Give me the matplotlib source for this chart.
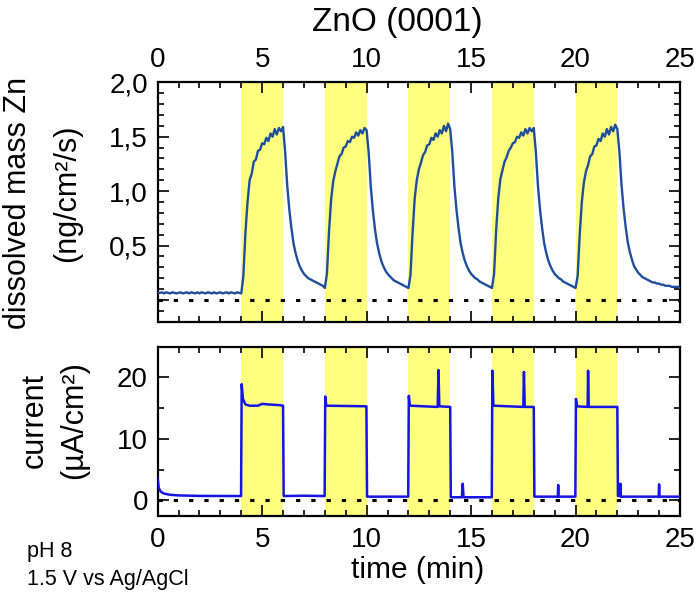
import numpy as np
import matplotlib
matplotlib.use("Agg")
import matplotlib.pyplot as plt
from matplotlib.ticker import MultipleLocator

plt.rcParams['font.family'] = ['Liberation Sans', 'DejaVu Sans']

# ---------------- data ----------------
# potential pulses (yellow bands), minutes
pulse_start = [4, 8, 12, 16, 20]
pulse_end = [6, 10, 14, 18, 22]

# dissolved mass Zn (ng/cm2/s), sampled every 0.1 min from 0 to 25 min
mass_values = [
    0.07, 0.065, 0.07, 0.06, 0.07, 0.065, 0.06, 0.07, 0.065, 0.06,   # 0
    0.065, 0.07, 0.06, 0.065, 0.07, 0.06, 0.07, 0.065, 0.06, 0.07,   # 1
    0.06, 0.07, 0.065, 0.06, 0.07, 0.065, 0.06, 0.07, 0.06, 0.065,   # 2
    0.07, 0.06, 0.065, 0.07, 0.06, 0.07, 0.065, 0.06, 0.07, 0.065,   # 3
    0.06, 0.22, 0.62, 0.90, 1.10, 1.16, 1.27, 1.29, 1.37, 1.38,      # 4
    1.44, 1.43, 1.49, 1.46, 1.53, 1.50, 1.57, 1.52, 1.58, 1.55,      # 5
    1.59, 1.36, 1.05, 0.83, 0.66, 0.52, 0.43, 0.36, 0.31, 0.27,      # 6
    0.24, 0.22, 0.20, 0.19, 0.18, 0.17, 0.16, 0.15, 0.14, 0.13,      # 7
    0.11, 0.24, 0.63, 0.92, 1.09, 1.18, 1.25, 1.32, 1.34, 1.40,      # 8
    1.41, 1.46, 1.45, 1.50, 1.49, 1.54, 1.51, 1.56, 1.53, 1.58,      # 9
    1.56, 1.35, 1.04, 0.82, 0.65, 0.52, 0.43, 0.36, 0.31, 0.27,      # 10
    0.24, 0.22, 0.20, 0.18, 0.17, 0.16, 0.15, 0.14, 0.13, 0.12,      # 11
    0.11, 0.23, 0.62, 0.93, 1.10, 1.20, 1.26, 1.33, 1.36, 1.42,      # 12
    1.43, 1.49, 1.47, 1.53, 1.50, 1.56, 1.53, 1.60, 1.55, 1.62,      # 13
    1.57, 1.36, 1.05, 0.83, 0.66, 0.52, 0.43, 0.36, 0.31, 0.27,      # 14
    0.24, 0.22, 0.20, 0.19, 0.17, 0.16, 0.15, 0.14, 0.13, 0.12,      # 15
    0.11, 0.24, 0.64, 0.93, 1.11, 1.19, 1.27, 1.31, 1.37, 1.40,      # 16
    1.44, 1.45, 1.50, 1.49, 1.54, 1.51, 1.57, 1.53, 1.58, 1.55,      # 17
    1.58, 1.36, 1.05, 0.83, 0.66, 0.52, 0.43, 0.36, 0.31, 0.27,      # 18
    0.24, 0.22, 0.20, 0.19, 0.17, 0.16, 0.15, 0.14, 0.13, 0.12,      # 19
    0.11, 0.22, 0.60, 0.90, 1.08, 1.18, 1.24, 1.32, 1.34, 1.41,      # 20
    1.42, 1.48, 1.46, 1.53, 1.50, 1.57, 1.52, 1.59, 1.55, 1.61,      # 21
    1.57, 1.36, 1.06, 0.84, 0.67, 0.53, 0.44, 0.37, 0.31, 0.28,      # 22
    0.25, 0.23, 0.21, 0.20, 0.19, 0.18, 0.17, 0.16, 0.16, 0.15,      # 23
    0.15, 0.14, 0.14, 0.13, 0.13, 0.13, 0.12, 0.12, 0.12, 0.12,      # 24
    0.11,                                                            # 25
]
mass_time = np.linspace(0, 25, len(mass_values))

# current (uA/cm2), breakpoints of the trace
cur_time = [0.0, 0.05, 0.15, 0.3, 0.6, 1.0, 2.0, 3.99,
            4.02, 4.08, 4.2, 4.4, 4.8, 5.0, 5.3, 5.8, 6.0,
            6.03, 7.0, 7.99,
            8.02, 8.07, 9.99,
            10.02, 11.99,
            12.02, 12.07, 13.4, 13.44, 13.48, 14.0,
            14.03, 14.56, 14.6, 14.64, 15.99,
            16.02, 16.07, 17.5, 17.53, 17.57, 18.0,
            18.03, 19.15, 19.17, 19.19, 19.99,
            20.02, 20.07, 20.58, 20.6, 20.63, 22.0,
            22.03, 22.13, 22.15, 22.17, 23.98, 24.0, 24.02, 25.0]
cur_value = [3.6, 2.0, 1.4, 1.1, 0.9, 0.8, 0.72, 0.7,
             18.9, 16.5, 15.6, 15.4, 15.4, 15.7, 15.6, 15.5, 15.4,
             0.7, 0.75, 0.7,
             16.9, 15.4, 15.3,
             0.6, 0.6,
             17.0, 15.4, 15.2, 21.2, 15.3, 15.2,
             0.5, 0.5, 2.7, 0.5, 0.5,
             21.1, 15.4, 15.2, 20.9, 15.2, 15.2,
             0.6, 0.6, 2.5, 0.6, 0.6,
             16.5, 15.3, 15.2, 21.1, 15.2, 15.2,
             0.7, 0.7, 2.7, 0.6, 0.6, 2.6, 0.6, 0.6]

top_ticks = [0, 0.5, 1.0, 1.5, 2.0]
top_ticklabels = ['', '0,5', '1,0', '1,5', '2,0']

# ---------------- figure ----------------
W, H = 698, 598
fig = plt.figure(figsize=(W / 100, H / 100), dpi=100)

x0, x1 = 157.7, 680.0
ax1 = fig.add_axes([x0 / W, 1 - 321.7 / H, (x1 - x0) / W, (321.7 - 82.3) / H])
ax2 = fig.add_axes([x0 / W, 1 - 515.7 / H, (x1 - x0) / W, (515.7 - 346.7) / H])

yellow = '#ffff80'
for ax in (ax1, ax2):
    for s, e in zip(pulse_start, pulse_end):
        ax.axvspan(s, e, color=yellow, lw=0, zorder=0)
    ax.axhline(0, color='black', lw=2.2, linestyle=(0, (1.4, 3.6)), zorder=1)
    ax.set_xlim(0, 25)
    ax.xaxis.set_major_locator(MultipleLocator(5))
    ax.xaxis.set_minor_locator(MultipleLocator(1))
    for sp in ax.spines.values():
        sp.set_linewidth(1.6)
    ax.tick_params(which='both', direction='in', top=True, right=True,
                   width=1.2, labelsize=20)
    ax.tick_params(which='major', length=8, pad=7)
    ax.tick_params(which='minor', length=4.5)

# top panel
ax1.plot(mass_time, mass_values, color='#1f4e9c', lw=1.7, zorder=3)
ax1.set_ylim(-0.2, 2.0)
ax1.set_yticks(top_ticks)
ax1.set_yticklabels(top_ticklabels)
ax1.yaxis.set_minor_locator(MultipleLocator(0.1))
ax1.tick_params(labeltop=True, labelbottom=False)

# bottom panel
ax2.plot(cur_time, cur_value, color='#1414e6', lw=1.8, zorder=3)
ax2.set_ylim(-2.5, 25)
ax2.set_yticks([0, 10, 20])
ax2.yaxis.set_minor_locator(MultipleLocator(5))
ax2.tick_params(axis='x', pad=8)

# texts
fig.text(397.5 / W, 1 - 22 / H, 'ZnO (0001)', ha='center', va='center', fontsize=24)
fig.text(418 / W, 1 - 570 / H, 'time (min)', ha='center', va='center', fontsize=21.5)
fig.text(18 / W, 1 - 203 / H, 'dissolved mass Zn', rotation=90,
         ha='center', va='center', fontsize=22)
fig.text(67 / W, 1 - 193 / H, '(ng/cm²/s)', rotation=90,
         ha='center', va='center', fontsize=22)
fig.text(35 / W, 1 - 420 / H, 'current', rotation=90,
         ha='center', va='center', fontsize=22)
fig.text(74 / W, 1 - 420 / H, '(µA/cm²)', rotation=90,
         ha='center', va='center', fontsize=22)
fig.text(27 / W, 1 - 552 / H, 'pH 8', ha='left', va='center', fontsize=15.5)
fig.text(27 / W, 1 - 580 / H, '1.5 V vs Ag/AgCl', ha='left', va='center', fontsize=15.5)

fig.savefig('out.png', dpi=100)
